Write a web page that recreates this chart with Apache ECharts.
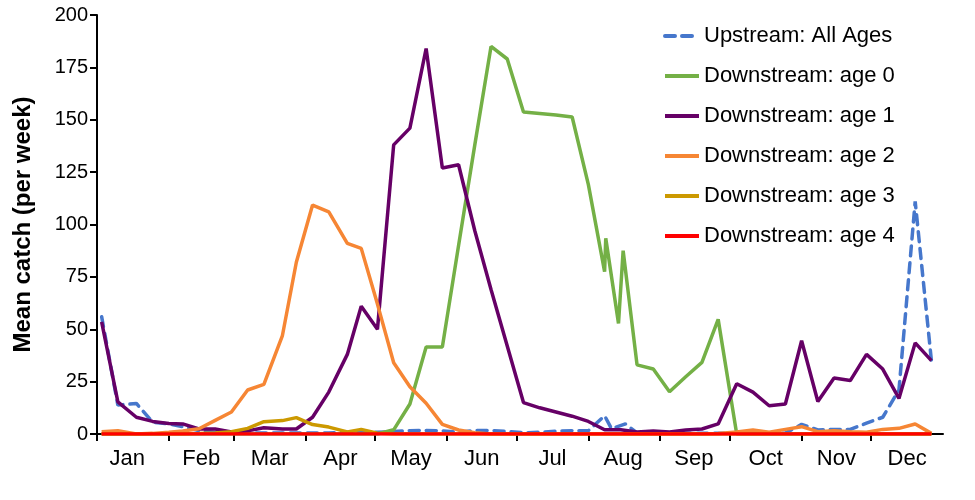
<!DOCTYPE html>
<html>
<head>
<meta charset="utf-8">
<script src="https://cdn.jsdelivr.net/npm/echarts@6/dist/echarts.min.js"></script>
<style>
  html, body { margin: 0; padding: 0; background: #fff; }
  #chart { width: 975px; height: 500px; }
</style>
</head>
<body>
<div id="chart"></div>
<script>
// month axis (day of year)
var months = ["Jan", "Feb", "Mar", "Apr", "May", "Jun", "Jul", "Aug", "Sep", "Oct", "Nov", "Dec"];
var monthStart = [0, 31, 59, 90, 120, 151, 181, 212, 243, 273, 304, 334];
var monthMid = [13, 45, 74.5, 105, 135.5, 166, 196.5, 227, 257.5, 288.5, 319, 349.5];

// weekly sampling days
var weekDays = [2, 9, 17, 24, 31, 37, 44, 51, 58, 65, 72, 80, 86, 93, 100, 108, 114, 121, 128, 135,
  142, 149, 156, 163, 170, 177, 184, 191, 198, 205, 212, 219, 226, 233, 240, 247, 254, 261, 268, 276,
  283, 290, 297, 304, 311, 318, 325, 332, 339, 346, 353, 360];

var age1 = [53.5, 15.3, 8, 6, 5, 4.8, 2.4, 2.4, 1, 1.5, 3, 2.4, 2.4, 8, 20, 38, 61, 50, 138, 146,
  184, 127, 128.5, 97, 69, 42, 15, 12.5, 10.5, 8.5, 6, 2, 2, 1, 1.4, 1, 1.9, 2.4, 4.8, 24,
  20, 13.5, 14.3, 44.5, 15.5, 26.7, 25.5, 38, 31, 17, 43.5, 35];

var age2 = [1.1, 1.6, 0, 0.3, 0.8, 1.4, 2.5, 6.5, 10.5, 21, 23.7, 47, 82, 109.3, 106, 91, 88.6, 62, 34, 22.6,
  14.7, 4.6, 1.9, 0.6, 0, 0, 0, 0, 0, 0, 0, 0, 0, 0, 0, 0, 0, 0, 0.2, 1,
  1.9, 0.8, 2.2, 3.5, 1.1, 1.6, 1.1, 0.8, 2.2, 2.7, 4.8, 0.3];

var age3 = [0, 0, 0, 0, 0, 0, 0.2, 0.5, 1.1, 2.7, 5.9, 6.4, 7.8, 4.5, 3.3, 1, 2.2, 0.4, 0, 0,
  0, 0, 0, 0, 0, 0, 0, 0, 0, 0, 0, 0, 0, 0, 0, 0, 0, 0, 0, 0,
  0, 0, 0, 0, 0, 0, 0, 0, 0, 0, 0, 0];

var age4 = [0, 0, 0, 0, 0, 0, 0, 0, 0, 0, 0, 0, 0, 0, 0, 0, 0, 0, 0, 0,
  0, 0, 0, 0, 0, 0, 0, 0, 0, 0, 0, 0, 0, 0, 0, 0, 0, 0, 0, 0,
  0, 0, 0, 0, 0, 0, 0, 0, 0, 0, 0, 0];

// age 0 has a few extra samples in August
var age0Days = [2, 31, 60, 93, 114, 121, 128, 135, 142, 149, 156, 163, 170, 177, 184, 191, 198, 205, 212, 219,
  219.5, 225, 227, 233, 240, 247, 254, 261, 268, 276, 304, 332, 360];
var age0 = [0, 0, 0, 0, 0, 0, 2, 14.3, 41.5, 41.5, 90, 138, 185, 179, 153.7, 153, 152.3, 151.3, 119, 77.5,
  93.4, 52.8, 87.5, 33, 31, 20.2, 27.3, 34.2, 54.7, 0, 0, 0, 0];

// upstream, all ages
var upDays = [2, 9, 17, 24, 31, 37, 44, 51, 58, 65, 72, 80, 86, 93, 100, 108, 114, 121, 128, 135,
  142, 149, 156, 163, 170, 177, 184, 191, 198, 205, 212, 219, 222, 228, 233, 240, 247, 254, 261, 268,
  276, 283, 290, 297, 304, 311, 318, 325, 332, 339, 346, 353, 360];
var upstream = [56, 13.8, 14.6, 5.6, 4.8, 3.5, 1.6, 0.8, 0.5, 0.5, 0.5, 0.5, 0.5, 0.5, 0.5, 0.8, 0.8, 0.8, 1.2, 1.6,
  1.7, 1.5, 0.8, 1.7, 1.7, 1.2, 0.6, 0.8, 1.3, 1.6, 1.6, 8.7, 2.5, 4.8, 0.5, 0.5, 0.5, 0.4, 0.4, 0.4,
  0.3, 0.3, 0.3, 0.4, 4.6, 1.9, 2.2, 2.2, 5.2, 8, 21, 111, 35];

function pairs(xs, ys) {
  var out = [];
  for (var i = 0; i < xs.length; i++) out.push([xs[i], ys[i]]);
  return out;
}

function lineSeries(name, data, color, dashed) {
  return {
    name: name,
    type: "line",
    data: data,
    symbol: "none",
    smooth: false,
    lineStyle: { color: color, width: 3.5, type: dashed ? [10, 7] : "solid", cap: dashed ? "round" : "butt" },
    itemStyle: { color: color }
  };
}

var chart = echarts.init(document.getElementById("chart"));
chart.setOption({
  animation: false,
  backgroundColor: "#fff",
  textStyle: { fontFamily: "Liberation Sans, Arial, sans-serif", color: "#000" },
  grid: { left: 97, right: 32, top: 15, bottom: 66 },
  legend: {
    orient: "vertical",
    left: 663,
    top: 25,
    padding: 0,
    itemWidth: 34,
    itemHeight: 14,
    itemGap: 18,
    itemStyle: { opacity: 0 },
    lineStyle: { width: 4 },
    textStyle: { fontSize: 22, color: "#000", fontFamily: "Liberation Sans, Arial, sans-serif" },
    data: ["Upstream: All Ages", "Downstream: age 0", "Downstream: age 1",
      "Downstream: age 2", "Downstream: age 3", "Downstream: age 4"]
  },
  xAxis: {
    type: "value",
    min: 0,
    max: 365,
    splitLine: { show: false },
    axisLine: { onZero: false, lineStyle: { color: "#000", width: 2 } },
    axisTick: { show: true, length: 7, customValues: monthStart, lineStyle: { color: "#000", width: 2 } },
    axisLabel: {
      customValues: monthMid,
      fontSize: 22,
      color: "#000",
      margin: 14,
      formatter: function (v) {
        var i = monthMid.indexOf(v);
        return i >= 0 ? months[i] : "";
      }
    }
  },
  yAxis: {
    type: "value",
    min: 0,
    max: 200,
    interval: 25,
    name: "Mean catch (per week)",
    nameLocation: "middle",
    nameGap: 62,
    nameTextStyle: { fontSize: 24, fontWeight: "bold", color: "#000" },
    splitLine: { show: false },
    axisLine: { show: true, lineStyle: { color: "#000", width: 2 } },
    axisTick: { show: true, length: 7, lineStyle: { color: "#000", width: 2 } },
    axisLabel: { fontSize: 20, color: "#000", margin: 9 }
  },
  series: [
    lineSeries("Upstream: All Ages", pairs(upDays, upstream), "#4677CC", true),
    lineSeries("Downstream: age 0", pairs(age0Days, age0), "#74B046", false),
    lineSeries("Downstream: age 1", pairs(weekDays, age1), "#660066", false),
    lineSeries("Downstream: age 2", pairs(weekDays, age2), "#F68634", false),
    lineSeries("Downstream: age 3", pairs(weekDays, age3), "#CC9900", false),
    lineSeries("Downstream: age 4", pairs(weekDays, age4), "#FF0000", false)
  ]
});
</script>
</body>
</html>
